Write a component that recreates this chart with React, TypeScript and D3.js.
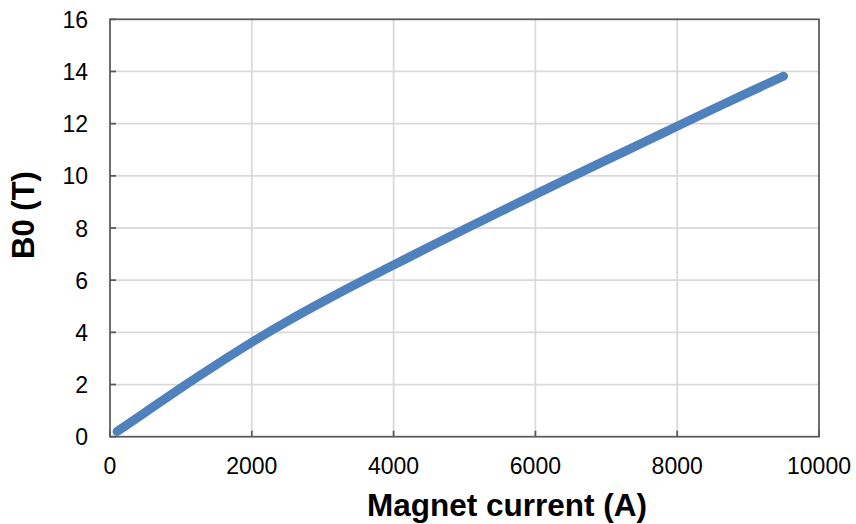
import React from "react";
import * as d3 from "d3";

const currents = [100, 500, 1000, 1500, 2000, 2500, 3000, 3500, 4000, 4500, 5000, 5500, 6000, 6500, 7000, 7500, 8000, 8500, 9000, 9500];
const fields = [0.2, 0.94, 1.87, 2.76, 3.62, 4.42, 5.17, 5.89, 6.58, 7.27, 7.95, 8.62, 9.29, 9.95, 10.6, 11.25, 11.9, 12.55, 13.19, 13.82];
const xTicks = [0, 2000, 4000, 6000, 8000, 10000];
const yTicks = [0, 2, 4, 6, 8, 10, 12, 14, 16];

const W = 856, H = 524;
const L = 110, R = 819, T = 19.3, B = 436.7;

export default function App() {
  const x = d3.scaleLinear().domain([0, 10000]).range([L, R]);
  const y = d3.scaleLinear().domain([0, 16]).range([B, T]);
  const pts = currents.map((c, i) => [c, fields[i]] as [number, number]);
  const line = d3.line<[number, number]>().x(d => x(d[0])).y(d => y(d[1])).curve(d3.curveMonotoneX);
  const font = "Liberation Sans, Arial, sans-serif";
  return (
    <svg width={W} height={H} style={{ position: "absolute", left: 0, top: 0 }}>
      <rect width={W} height={H} fill="#fff" />
      {xTicks.slice(1, -1).map(t => (
        <line key={"gx" + t} x1={x(t)} x2={x(t)} y1={T} y2={B} stroke="#d9d9d9" strokeWidth={1.75} />
      ))}
      {yTicks.slice(1, -1).map(t => (
        <line key={"gy" + t} x1={L} x2={R} y1={y(t)} y2={y(t)} stroke="#d9d9d9" strokeWidth={1.75} />
      ))}
      <rect x={L} y={T} width={R - L} height={B - T} fill="none" stroke="#595959" strokeWidth={1.75} />
      {xTicks.map(t => (
        <line key={"tx" + t} x1={x(t)} x2={x(t)} y1={B} y2={B - 6} stroke="#595959" strokeWidth={1.75} />
      ))}
      {yTicks.map(t => (
        <line key={"ty" + t} x1={L} x2={L + 6} y1={y(t)} y2={y(t)} stroke="#595959" strokeWidth={1.75} />
      ))}
      <path d={line(pts) || ""} fill="none" stroke="#4f81bd" strokeWidth={9} strokeLinecap="round" strokeLinejoin="round" />
      {xTicks.map(t => (
        <text key={"lx" + t} x={x(t)} y={B + 37.3} textAnchor="middle" fontFamily={font} fontSize={23} fill="#000">{t}</text>
      ))}
      {yTicks.map(t => (
        <text key={"ly" + t} x={L - 22} y={y(t) + 8.5} textAnchor="end" fontFamily={font} fontSize={23} fill="#000">{t}</text>
      ))}
      <text x={507} y={516} textAnchor="middle" fontFamily={font} fontSize={31.5} fontWeight="bold" fill="#000">Magnet current (A)</text>
      <text transform={`translate(34, 215) rotate(-90)`} textAnchor="middle" fontFamily={font} fontSize={31} fontWeight="bold" fill="#000">B0 (T)</text>
    </svg>
  );
}
